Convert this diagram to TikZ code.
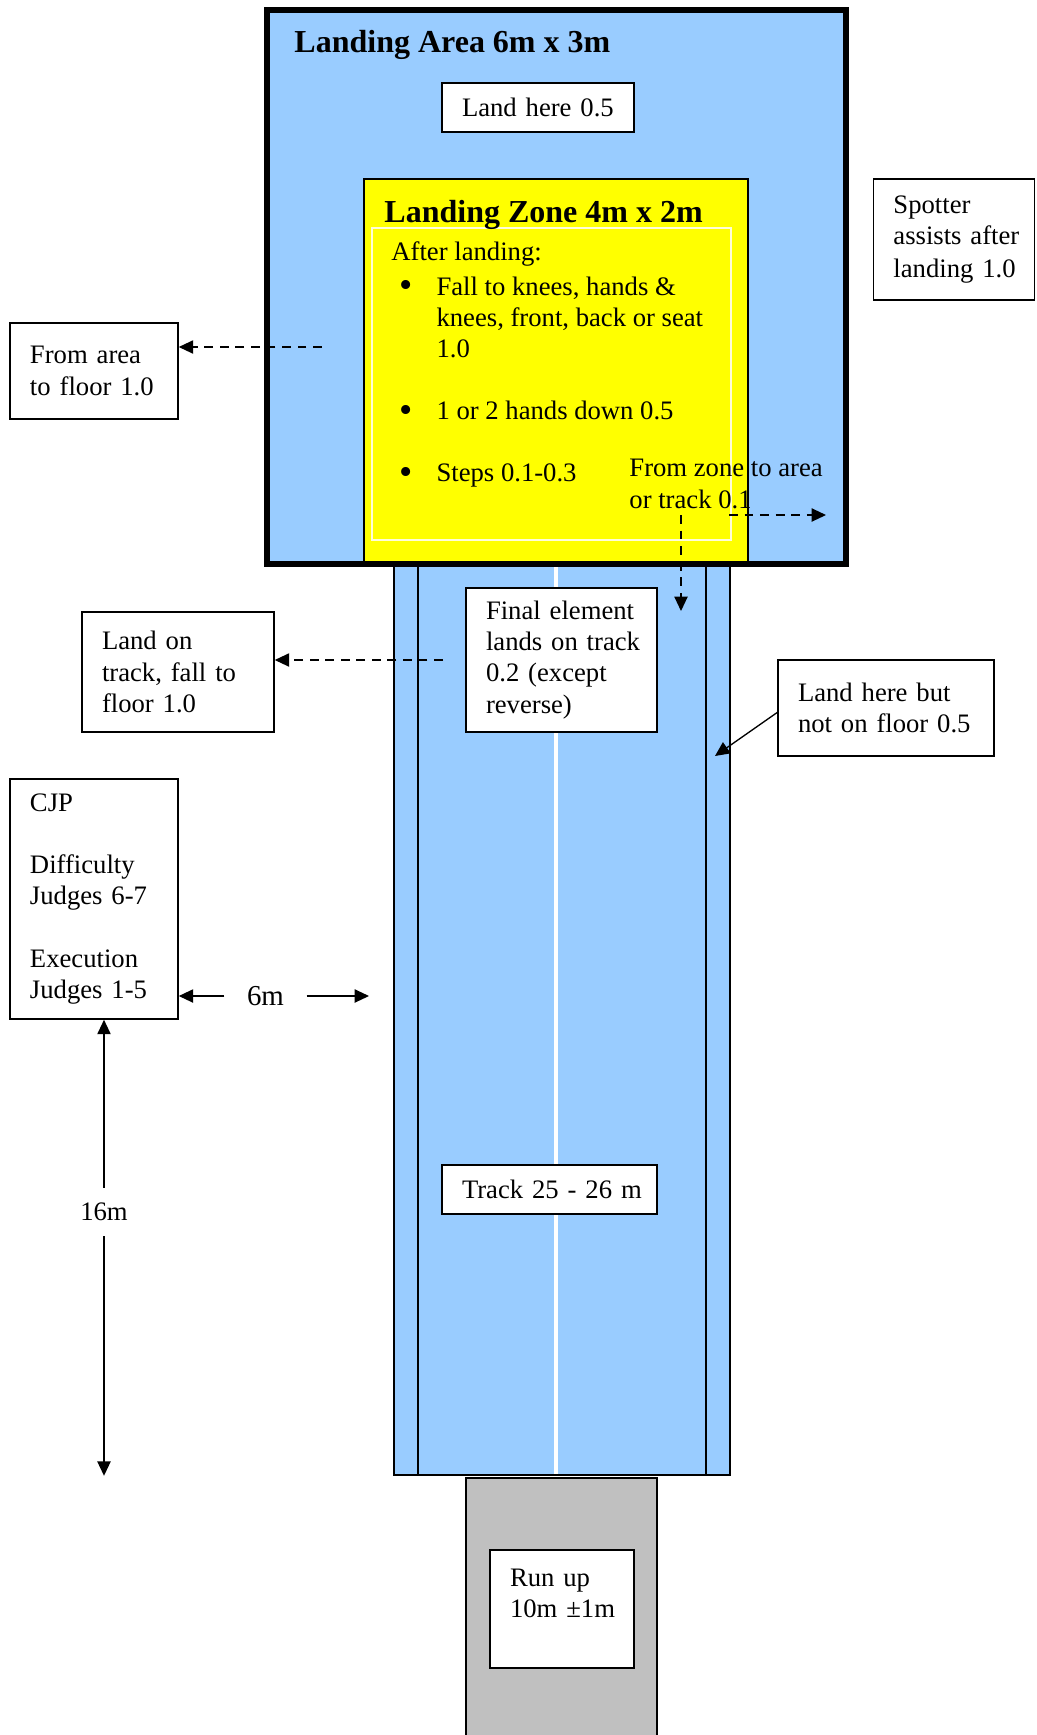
\documentclass[tikz,border=0pt]{standalone}
\usepackage{fontspec}
\setmainfont{Liberation Serif}
\usetikzlibrary{arrows.meta, positioning}
\definecolor{padC} {RGB}{153, 204, 255}
\definecolor{zoneC}{RGB}{255, 255,   0}
\definecolor{runC} {RGB}{192, 192, 192}
\newcommand{\bul}{\makebox[20.3pt][l]{\hspace{3.6pt}%
  \raisebox{-1.3pt}{\fontsize{17}{14}\selectfont\textbullet}}}
\tikzset{
  mat/.style  = {rectangle, inner sep=0pt, draw=black},
  note/.style = {rectangle, draw=black, fill=white, line width=0.7pt,
                 align=left, inner xsep=9pt, inner ysep=0pt,
                 font=\fontsize{12}{14}\selectfont},
  head/.style = {anchor=base west, inner sep=0pt,
                 font=\bfseries\fontsize{14.4}{17}\selectfont},
  txt/.style  = {anchor=base west, inner sep=0pt, align=left,
                 font=\fontsize{12}{14}\selectfont},
  arr/.style  = {-{Triangle[length=6.5pt,width=6pt]}, line width=0.6pt},
  darr/.style = {arr, dash pattern=on 4pt off 3pt},
}

\begin{document}
\begin{tikzpicture}[x=0.45pt, y=-0.45pt]
\useasboundingbox (0,0) rectangle (1036,1735);

% ---- Track and run up -------------------------------------------------------
\node[mat, fill=padC, line width=0.7pt, minimum width=151.2pt,
      minimum height=410.85pt] (track) at (562,1018.5) {};
\draw[line width=0.7pt] (418,562) -- (418,1475);
\draw[line width=0.7pt] (706,562) -- (706,1475);
\draw[white, line width=1.4pt] (556,563) -- (556,1474);

\fill[runC] (466,1478) rectangle (657,1745);
\draw[line width=0.7pt] (466,1745) |- (657,1478) -- (657,1745);

% ---- Landing area and zone --------------------------------------------------
\node[mat, fill=padC, line width=2.5pt, minimum width=260.55pt,
      minimum height=249.3pt] (area) at (556.5,287) {};
\node[mat, fill=zoneC, line width=1.3pt, minimum width=172.8pt,
      minimum height=172.35pt] (zone) at (556,370.5) {};
\draw[yellow!15!white, line width=0.5pt] (372,228) rectangle (731,540);

\node[head] (areattl) at (294,52)  {Landing Area 6m x 3m};
\node[head] (zonettl) at (384,222) {Landing Zone 4m x 2m};

\node[note, text width=68.4pt, minimum height=22pt]
  (landhere) at (538,107.5) {\mbox{Land here 0.5}};

% base of a multi-line node is its last line
\node[txt] (rules) at (391,481.7) {After landing:\\[1.5pt]
  \bul Fall to knees, hands \&\\
  \hspace*{20.3pt}knees, front, back or seat\\
  \hspace*{20.3pt}1.0\\[14pt]
  \bul 1 or 2 hands down 0.5\\[14pt]
  \bul Steps 0.1-0.3};

\node[txt] (zoneout) at (629,508) {From zone to area\\or track 0.1};

% ---- Zone exits -------------------------------------------------------------
\coordinate (zd0) at (681,515);
\coordinate (zd1) at (681,611);
\coordinate (zr0) at (729,515);
\coordinate (zr1) at (826,515);
\draw[darr] (zd0) -- (zd1);
\draw[darr] (zr0) -- (zr1);

% ---- Right notes ------------------------------------------------------------
\node[note, text width=54.5pt, minimum height=54.45pt]
  (spotter) at (954,239.5)
  {Spotter\\\mbox{assists after}\\[1pt]\mbox{landing 1.0}};

\node[note, text width=79.2pt, minimum height=43.2pt]
  (landbut) at (886,708) {\mbox{Land here but}\\\mbox{not on floor 0.5}};
\coordinate (lb1) at (715,756);
\draw[arr] ([yshift=-2pt]landbut.west) -- (lb1);

% ---- Track notes ------------------------------------------------------------
\node[note, text width=67.95pt, minimum height=64.8pt]
  (final) at (561.5,660)
  {\mbox{Final element}\\\mbox{lands on track}\\\mbox{0.2 (except}\\reverse)};

\node[note, text width=78.75pt, minimum height=22.05pt]
  (tracklbl) at (549.5,1189.5) {\mbox{Track 25 - 26 m}};

\node[note, text width=46.8pt, minimum height=53.1pt]
  (runbox) at (562,1609) {Run up\\\mbox{10m ±1m}\\\mbox{}};

% ---- Left notes -------------------------------------------------------------
\node[note, text width=57.6pt, minimum height=43.2pt]
  (fromarea) at (94,371) {\mbox{From area}\\\mbox{to floor 1.0}};
\coordinate (fa0) at (322,347);
\draw[darr] (fa0) -- (fa0 -| fromarea.east);

\node[note, text width=68.4pt, minimum height=54pt]
  (landtrack) at (178,672) {Land on\\\mbox{track, fall to}\\\mbox{floor 1.0}};
\coordinate (lt0) at (443,660);
\draw[darr] (lt0) -- (lt0 -| landtrack.east);

\node[note, text width=57.6pt, minimum height=108pt]
  (cjp) at (94,899)
  {CJP\\[14pt]Difficulty\\\mbox{Judges 6-7}\\[14pt]Execution\\\mbox{Judges 1-5}};

% ---- Distances --------------------------------------------------------------
\node[inner xsep=10pt, font=\fontsize{13}{15}\selectfont] (d6) at (265.5,996) {6m};
\coordinate (d6r) at (369,996);
\draw[arr] (d6.west) -- (d6.west -| cjp.east);
\draw[arr] (d6.east) -- (d6r);

\node[inner ysep=0pt, minimum height=21.6pt, font=\fontsize{12}{14}\selectfont]
  (d16) at (104,1212) {16m};
\draw[arr] (d16.north) -- (d16.north |- cjp.south);
\draw[arr] (d16.south) -- (d16.south |- track.south);

\end{tikzpicture}
\end{document}
